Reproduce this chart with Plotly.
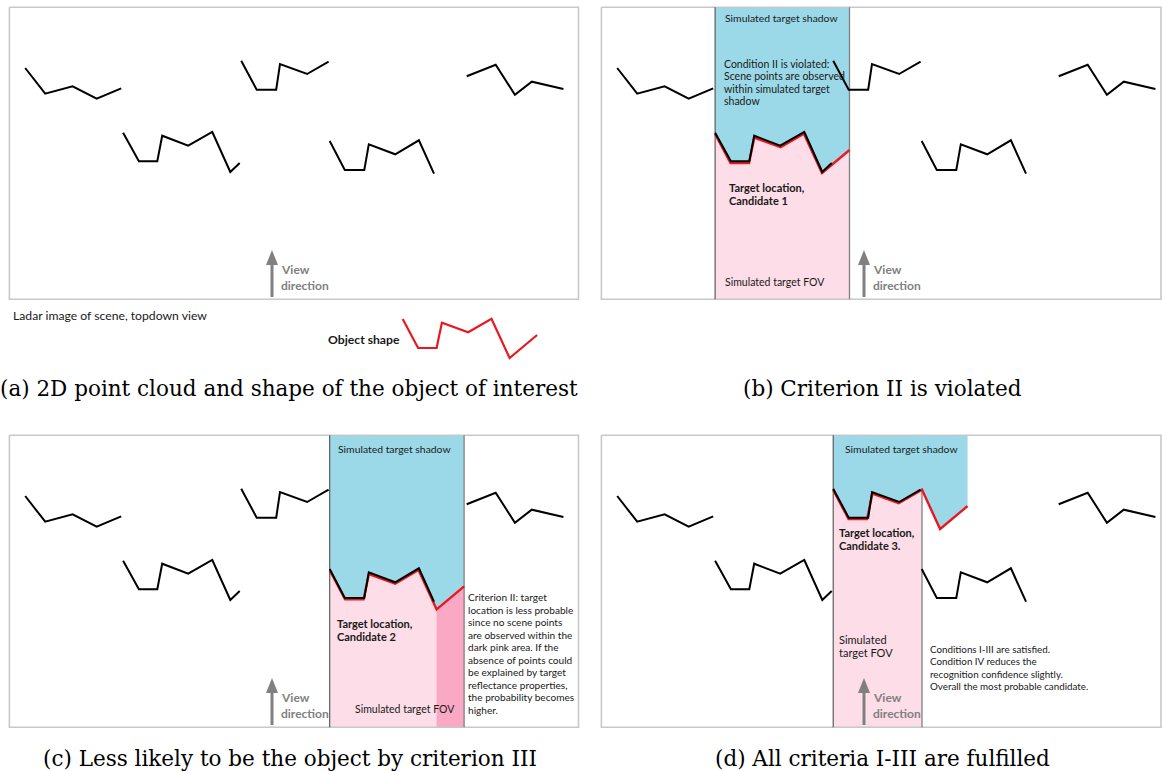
import plotly.graph_objects as go

# ---------------- data (panel (a) pixel coordinates) ----------------
scene_1_x = [25.2, 45.2, 72.6, 96.7, 121.2]
scene_1_y = [68.0, 93.7, 86.3, 98.7, 88.3]
scene_2_x = [241.2, 256.7, 276.2, 280.0, 307.1, 328.6]
scene_2_y = [60.7, 89.7, 89.7, 64.0, 74.0, 61.7]
scene_3_x = [466.7, 495.7, 514.9, 531.8, 563.4]
scene_3_y = [76.3, 64.7, 94.7, 81.7, 89.0]
scene_4_x = [123.1, 138.9, 157.3, 162.2, 188.2, 212.3, 230.3, 239.7]
scene_4_y = [132.7, 161.3, 161.3, 135.7, 145.7, 132.0, 172.0, 163.0]
scene_5_x = [329.7, 344.8, 364.3, 368.8, 395.2, 418.9, 434.0]
scene_5_y = [141.0, 170.0, 170.0, 144.3, 154.3, 140.3, 173.7]

object_x = [402.7, 418.1, 436.6, 441.9, 468.2, 491.5, 509.6, 537.1]
object_y = [319.0, 348.0, 348.0, 322.7, 332.3, 318.7, 358.0, 335.0]

panel_names = ["a", "b", "c", "d"]
panel_offset_x = [0.0, 592.0, 0.0, 592.0]
panel_offset_y = [0.0, 0.0, 428.0, 428.0]
box_left = [9.4, 601.4, 9.4, 601.4]
box_right = [578.5, 1161.0, 578.5, 1161.0]
box_top = [7.3, 7.3, 435.3, 435.3]
box_bottom = [299.3, 299.3, 727.3, 727.3]

view_arrow_x = 272.0
view_arrow_y = [297.0, 250.0]

captions = [
    "(a) 2D point cloud and shape of the object of interest",
    "(b) Criterion II is violated",
    "(c) Less likely to be the object by criterion III",
    "(d) All criteria I-III are fulfilled",
]

crit_c_lines = ["Criterion II: target", "location is less probable", "since no scene points",
                "are observed within the", "dark pink area. If the", "absence of points could",
                "be explained by target", "reflectance properties,", "the probability becomes",
                "higher."]
cond_b_lines = ["Condition II is violated:", "Scene points are observed",
                "within simulated target", "shadow"]
cond_d_lines = ["Conditions I-III are satisfied.", "Condition IV reduces the",
                "recognition confidence slightly.", "Overall the most probable candidate."]

# ---------------- styles ----------------
BLUE = "rgb(156,217,232)"
PINK = "rgb(253,221,231)"
DPINK = "rgb(250,168,196)"
RED = "rgb(232,24,32)"
EDGE = "rgb(80,80,80)"
BOX = "rgb(200,200,200)"
GRAY = "rgb(128,128,128)"
SANS = "Lato, Carlito, Calibri, sans-serif"
SERIF = "DejaVu Serif, serif"

scenes = [(scene_1_x, scene_1_y), (scene_2_x, scene_2_y), (scene_3_x, scene_3_y),
          (scene_4_x, scene_4_y), (scene_5_x, scene_5_y)]
# candidate scene segment used as anchor for panels b, c, d
candidate = {1: 3, 2: 4, 3: 1}

fig = go.Figure()


def add_poly(xs, ys, color):
    fig.add_trace(go.Scatter(x=xs, y=ys, mode="lines", fill="toself", fillcolor=color,
                             line=dict(width=0), hoverinfo="skip"))


def add_line(xs, ys, color, width):
    fig.add_trace(go.Scatter(x=xs, y=ys, mode="lines", line=dict(color=color, width=width),
                             hoverinfo="skip"))


def placed_object(p):
    sx, sy = scenes[candidate[p]]
    ax = sx[0] + panel_offset_x[p]
    ay = sy[0] + panel_offset_y[p]
    ox = [v - object_x[0] + ax for v in object_x]
    oy = [v - object_y[0] + ay for v in object_y]
    return ox, oy


# ---- fills ----
for p in (1, 2, 3):
    ox, oy = placed_object(p)
    top, bot = box_top[p], box_bottom[p]
    add_poly([ox[0], ox[-1], ox[-1]] + ox[::-1], [top, top, oy[-1]] + oy[::-1], BLUE)
    if p == 3:
        add_poly(ox[:6] + [ox[5], ox[0]], oy[:6] + [bot, bot], PINK)
    else:
        add_poly(ox + [ox[-1], ox[0]], oy + [bot, bot], PINK)
    if p == 2:
        add_poly(ox[6:] + [ox[-1], ox[6]], oy[6:] + [bot, bot], DPINK)

# ---- boxes ----
for p in range(4):
    add_line([box_left[p], box_right[p], box_right[p], box_left[p], box_left[p]],
             [box_top[p], box_top[p], box_bottom[p], box_bottom[p], box_top[p]], BOX, 1.6)

# ---- band edges ----
for p in (1, 2, 3):
    ox, oy = placed_object(p)
    add_line([ox[0], ox[0]], [box_top[p], box_bottom[p]], EDGE, 1.1)
    if p == 3:
        add_line([ox[5], ox[5]], [oy[5], box_bottom[p]], GRAY, 1.3)
    else:
        add_line([ox[-1], ox[-1]], [box_top[p], box_bottom[p]], GRAY, 1.3)

# ---- red object shapes ----
add_line(object_x, object_y, RED, 2.2)
for p in (1, 2, 3):
    ox, oy = placed_object(p)
    add_line(ox, [v + 1.3 for v in oy], RED, 2.4)

# ---- scene lines ----
for p in range(4):
    for sx, sy in scenes:
        add_line([v + panel_offset_x[p] for v in sx], [v + panel_offset_y[p] for v in sy],
                 "black", 2.0)

# ---- view arrows ----
for p in range(4):
    x = view_arrow_x + panel_offset_x[p]
    y0, y1 = view_arrow_y[0] + panel_offset_y[p], view_arrow_y[1] + panel_offset_y[p]
    add_line([x, x], [y0, y1 + 12], GRAY, 3)
    add_poly([x - 6, x + 6, x, x - 6], [y1 + 15, y1 + 15, y1, y1 + 15], GRAY)

# ---- text ----
annotations = []


def txt(x, y, s, size=10, bold=False, color="rgb(25,25,25)", family=SANS, anchor="left"):
    annotations.append(dict(x=x, y=y, xref="x", yref="y", text=("<b>%s</b>" % s) if bold else s,
                            showarrow=False, xanchor=anchor, yanchor="middle",
                            font=dict(family=family, size=size, color=color)))


for p in range(4):
    dx = view_arrow_x + panel_offset_x[p] + 7
    txt(dx, 269 + panel_offset_y[p], "View", 12, True, GRAY)
    txt(dx, 285 + panel_offset_y[p], "direction", 12, True, GRAY)

txt(10.5, 315.7, "Ladar image of scene, topdown view", 12.2)
txt(325.6, 339, "Object shape", 12.2, True)

txt(722.7, 17.7, "Simulated target shadow", 10.4)
for i, s in enumerate(cond_b_lines):
    txt(722.3, 63.7 + 12.5 * i, s, 10.5)
txt(727, 187, "Target location,", 11, True)
txt(727, 200, "Candidate 1", 11, True)
txt(722.7, 281.7, "Simulated target FOV", 10.5)

txt(336, 448.7, "Simulated target shadow", 10.4)
txt(335, 623, "Target location,", 11, True)
txt(335, 636, "Candidate 2", 11, True)
txt(352.7, 708.7, "Simulated target FOV", 10.5)
for i, s in enumerate(crit_c_lines):
    txt(466, 597.3 + 12.47 * i, s, 10.1)

txt(842.6, 448.7, "Simulated target shadow", 10.4)
txt(837.4, 532.7, "Target location,", 11, True)
txt(837.4, 545.7, "Candidate 3.", 11, True)
txt(837.4, 639, "Simulated", 11)
txt(837.4, 652.3, "target FOV", 11)
for i, s in enumerate(cond_d_lines):
    txt(927.7, 648.7 + 12.53 * i, s, 9.8)

cap_x = [289, 882, 290, 882]
cap_y = [388, 388, 758.3, 758.3]
for i, c in enumerate(captions):
    txt(cap_x[i], cap_y[i], c, 21.5, False, "black", SERIF, "center")

fig.update_layout(
    width=1163, height=771, margin=dict(l=0, r=0, t=0, b=0),
    paper_bgcolor="white", plot_bgcolor="white", showlegend=False,
    xaxis=dict(range=[0, 1163], visible=False, fixedrange=True),
    yaxis=dict(range=[771, 0], visible=False, fixedrange=True),
    annotations=annotations,
)
fig.write_html("out.html", config={"displayModeBar": False},
               post_script="document.body.style.margin='0px';")
